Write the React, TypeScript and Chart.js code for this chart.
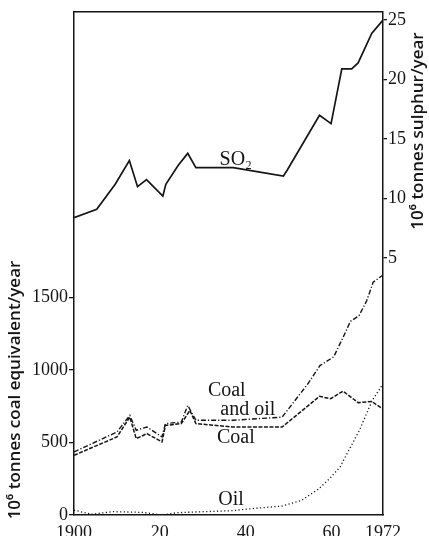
import { useEffect, useRef } from "react";
import { Chart, registerables } from "chart.js";

Chart.register(...registerables);

// ---- data ----
const xTickValues = [1900, 1920, 1940, 1960, 1972];
const xTickLabels = ["1900", "20", "40", "60", "1972"];
const leftTickValues = [0, 500, 1000, 1500];
const rightTickValues = [5, 10, 15, 20, 25];

const so2Years = [1900, 1905.3, 1909.6, 1912.9, 1914.8, 1916.9, 1920.7, 1921.4, 1924.3, 1926.5, 1928.4, 1937.1, 1948.8, 1949.7, 1957.2, 1959.9, 1962.4, 1964.7, 1966.2, 1969.4, 1972];
const so2Values = [8.4, 9.1, 11.2, 13.2, 11.0, 11.6, 10.2, 11.2, 12.8, 13.8, 12.6, 12.6, 11.9, 12.4, 17.0, 16.3, 20.9, 20.9, 21.4, 23.9, 25.0];

const coalOilYears = [1900, 1910, 1913, 1914.5, 1917, 1920.5, 1921.3, 1925, 1926.5, 1928.4, 1937, 1948.5, 1954.5, 1957.3, 1960.5, 1962.7, 1964.4, 1966.4, 1968.2, 1969.7, 1972];
const coalOilValues = [435, 572, 687, 584, 607, 538, 630, 641, 756, 653, 653, 675, 905, 1030, 1090, 1225, 1335, 1374, 1477, 1605, 1655];

const coalYears = [1900, 1910, 1913, 1914.5, 1917, 1920.5, 1921.3, 1925, 1927, 1928.4, 1937, 1948.5, 1957.2, 1959.8, 1962.7, 1966.2, 1969.4, 1972];
const coalValues = [412, 538, 675, 527, 561, 504, 618, 630, 721, 630, 607, 607, 818, 802, 854, 775, 783, 730];

const oilYears = [1900, 1904, 1909, 1916, 1920.5, 1924, 1937, 1940, 1948.5, 1953, 1957, 1959.6, 1962, 1966.5, 1969.5, 1972];
const oilValues = [34, 5, 23, 18, 0, 16, 30, 40, 62, 100, 180, 252, 332, 584, 790, 905];

const annotationTexts = ["SO₂", "Coal", "and oil", "Coal", "Oil"];
const annotationYears = [1937.7, 1935.6, 1940.5, 1937.7, 1936.6];
const annotationValues = [13.3, 859, 728, 536, 103];
const annotationAxes = ["y2", "y", "y", "y", "y"];

const leftTitle = "10⁶ tonnes coal equivalent/year";
const rightTitle = "10⁶ tonnes sulphur/year";

const INK = "#151515";
const SERIF = "'Liberation Serif', 'DejaVu Serif', serif";

const pts = (xs: number[], ys: number[]) => xs.map((x, i) => ({ x, y: ys[i] }));

const decorPlugin = {
  id: "decor",
  afterDraw(chart: any) {
    const { ctx, chartArea, scales } = chart;
    const { left, right, top } = chartArea;
    ctx.save();
    ctx.strokeStyle = INK;
    ctx.lineWidth = 1.5;
    ctx.beginPath();
    ctx.moveTo(left, top);
    ctx.lineTo(right, top);
    ctx.stroke();

    ctx.fillStyle = INK;
    ctx.textAlign = "center";
    ctx.textBaseline = "middle";
    ctx.font = `20px ${SERIF}`;
    annotationTexts.forEach((t, i) => {
      const px = scales.x.getPixelForValue(annotationYears[i]);
      const py = scales[annotationAxes[i]].getPixelForValue(annotationValues[i]);
      ctx.fillText(t, px, py);
    });

    ctx.font = "600 17px 'Open Sans', 'Noto Sans', sans-serif";
    ctx.save();
    ctx.translate(15, 390);
    ctx.rotate(-Math.PI / 2);
    ctx.fillText(leftTitle, 0, 0);
    ctx.restore();
    ctx.save();
    ctx.translate(418, 131);
    ctx.rotate(-Math.PI / 2);
    ctx.fillText(rightTitle, 0, 0);
    ctx.restore();
    ctx.restore();
  },
};

export default function App() {
  const ref = useRef<HTMLCanvasElement | null>(null);
  useEffect(() => {
    document.body.style.margin = "0";
    const canvas = ref.current;
    if (!canvas) return;
    const tickFont = { family: SERIF, size: 18 };
    const plain = (v: any) => String(v);
    const chart = new Chart(canvas, {
      type: "line",
      data: {
        datasets: [
          {
            label: "SO2",
            data: pts(so2Years, so2Values),
            yAxisID: "y2",
            borderColor: INK,
            borderWidth: 1.7,
            pointRadius: 0,
            tension: 0,
          },
          {
            label: "Coal and oil",
            data: pts(coalOilYears, coalOilValues),
            yAxisID: "y",
            borderColor: INK,
            borderWidth: 1.4,
            borderDash: [5, 2, 1.2, 2],
            pointRadius: 0,
            tension: 0,
          },
          {
            label: "Coal",
            data: pts(coalYears, coalValues),
            yAxisID: "y",
            borderColor: INK,
            borderWidth: 1.5,
            borderDash: [4, 1.5],
            pointRadius: 0,
            tension: 0,
          },
          {
            label: "Oil",
            data: pts(oilYears, oilValues),
            yAxisID: "y",
            borderColor: INK,
            borderWidth: 1.3,
            borderDash: [1.2, 2.4],
            pointRadius: 0,
            tension: 0,
          },
        ],
      },
      options: {
        animation: false,
        responsive: false,
        layout: { padding: { top: 10, left: 0, right: 0, bottom: 0 } },
        plugins: { legend: { display: false }, tooltip: { enabled: false } },
        scales: {
          x: {
            type: "linear",
            min: 1900,
            max: 1972,
            grid: { display: false },
            border: { display: true, color: INK, width: 1.5 },
            ticks: {
              color: INK,
              font: tickFont,
              padding: -1,
              maxRotation: 0,
              callback: (v: any) => {
                const i = xTickValues.indexOf(Number(v));
                return i >= 0 ? xTickLabels[i] : "";
              },
            },
            afterBuildTicks: (s: any) => {
              s.ticks = xTickValues.map((value) => ({ value }));
            },
            afterFit: (s: any) => {
              s.height = 21;
            },
          },
          y: {
            type: "linear",
            position: "left",
            min: 0,
            max: 3470,
            grid: { display: true, drawOnChartArea: false, drawTicks: true, tickLength: 5, color: INK, lineWidth: 1.3 },
            border: { display: true, color: INK, width: 1.5 },
            ticks: { color: INK, font: tickFont, padding: 1, callback: plain },
            afterBuildTicks: (s: any) => {
              s.ticks = leftTickValues.map((value) => ({ value }));
            },
            afterFit: (s: any) => {
              s.width = 74;
            },
          },
          y2: {
            type: "linear",
            position: "right",
            min: -16.6,
            max: 25.7,
            grid: { display: true, drawOnChartArea: false, drawTicks: true, tickLength: 4, color: INK, lineWidth: 1.3 },
            border: { display: true, color: INK, width: 1.5 },
            ticks: { color: INK, font: tickFont, padding: 1, callback: plain },
            afterBuildTicks: (s: any) => {
              s.ticks = rightTickValues.map((value) => ({ value }));
            },
            afterFit: (s: any) => {
              s.width = 46;
            },
          },
        },
      },
      plugins: [decorPlugin],
    } as any);
    return () => chart.destroy();
  }, []);
  return (
    <div style={{ width: 429, height: 536, background: "#fff" }}>
      <canvas ref={ref} width={429} height={536} style={{ display: "block" }} />
    </div>
  );
}
